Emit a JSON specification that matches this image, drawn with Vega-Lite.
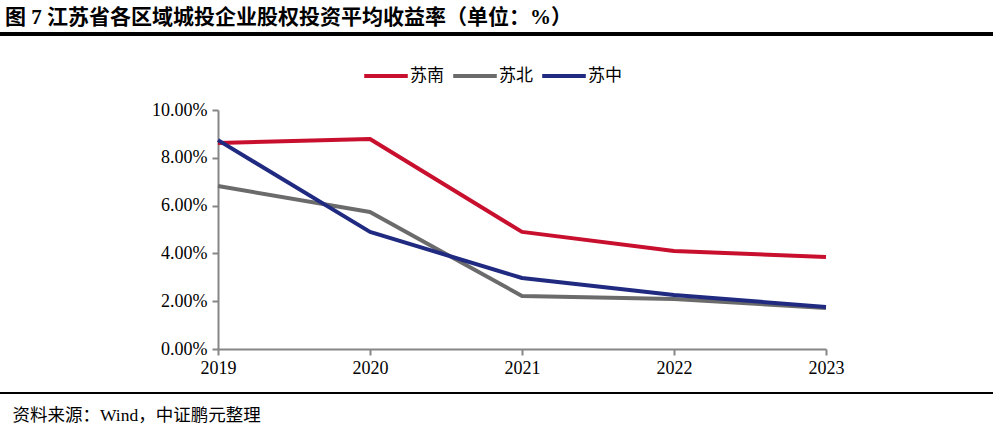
{
  "$schema": "https://vega.github.io/schema/vega-lite/v6.json",
  "width": 608,
  "height": 239,
  "autosize": {"type": "none"},
  "padding": {"left": 218, "top": 110, "right": 167, "bottom": 84},
  "background": "white",
  "config": {
    "view": {"stroke": null},
    "font": "Liberation Serif, Noto Sans CJK SC",
    "axis": {"grid": false, "labelFont": "Liberation Serif, Noto Sans CJK SC", "labelFontSize": 18, "labelColor": "#000000", "domainColor": "#868686", "domainWidth": 2, "tickColor": "#868686", "tickWidth": 2, "tickSize": 6}
  },
  "title": {
    "text": "图 7  江苏省各区域城投企业股权投资平均收益率（单位：%）",
    "anchor": "start",
    "frame": "group",
    "dx": -213,
    "dy": 21,
    "offset": 5,
    "baseline": "bottom",
    "font": "Liberation Serif, Noto Sans CJK SC",
    "fontSize": 21,
    "fontWeight": "bold",
    "color": "#000000"
  },
  "data": {
    "values": [
      {"year": 2019, "region": "苏南", "value": 8.62},
      {"year": 2020, "region": "苏南", "value": 8.79},
      {"year": 2021, "region": "苏南", "value": 4.90},
      {"year": 2022, "region": "苏南", "value": 4.10},
      {"year": 2023, "region": "苏南", "value": 3.85},
      {"year": 2019, "region": "苏北", "value": 6.82},
      {"year": 2020, "region": "苏北", "value": 5.73},
      {"year": 2021, "region": "苏北", "value": 2.22},
      {"year": 2022, "region": "苏北", "value": 2.09},
      {"year": 2023, "region": "苏北", "value": 1.72},
      {"year": 2019, "region": "苏中", "value": 8.74},
      {"year": 2020, "region": "苏中", "value": 4.90},
      {"year": 2021, "region": "苏中", "value": 2.97},
      {"year": 2022, "region": "苏中", "value": 2.26},
      {"year": 2023, "region": "苏中", "value": 1.76}
    ]
  },
  "layer": [
    {
      "mark": {"type": "line", "strokeWidth": 4, "strokeJoin": "round"},
      "encoding": {
        "x": {
          "field": "year", "type": "quantitative",
          "scale": {"domain": [2019, 2023], "nice": false, "zero": false},
          "axis": {
            "values": [2019, 2020, 2021, 2022, 2023], "format": "d", "labelPadding": 4, "labelFlush": false,
            "title": "资料来源：Wind，中证鹏元整理",
            "titleAnchor": "start", "titleX": -206, "titleY": 66, "titleBaseline": "middle", "titleAlign": "left",
            "titleFont": "Liberation Serif, Noto Sans CJK SC", "titleFontSize": 17.5, "titleFontWeight": "normal", "titleColor": "#000000"
          }
        },
        "y": {
          "field": "value", "type": "quantitative",
          "scale": {"domain": [0, 10], "nice": false},
          "axis": {"values": [0, 2, 4, 6, 8, 10], "labelExpr": "format(datum.value, '.2f') + '%'", "title": null, "labelPadding": 5}
        },
        "color": {
          "field": "region", "type": "nominal",
          "scale": {"domain": ["苏南", "苏北", "苏中"], "range": ["#C8102E", "#6B6B6B", "#1F2A80"]},
          "legend": {
            "orient": "none", "legendX": 144, "legendY": -58, "direction": "horizontal", "title": null,
            "symbolType": "stroke", "symbolSize": 1900, "symbolStrokeWidth": 4,
            "labelFont": "Liberation Serif, Noto Sans CJK SC", "labelFontSize": 17, "labelColor": "#000000",
            "labelOffset": 0, "columnPadding": 1
          }
        }
      }
    },
    {
      "mark": {"type": "rule", "color": "#000000", "strokeWidth": 2.5},
      "encoding": {
        "x": {"datum": 2017.566, "type": "quantitative", "scale": {"domain": [2019, 2023], "nice": false, "zero": false}},
        "x2": {"datum": 2024.099},
        "y": {"datum": 13.18, "type": "quantitative", "scale": {"domain": [0, 10], "nice": false}}
      }
    },
    {
      "mark": {"type": "rule", "color": "#000000", "strokeWidth": 2},
      "encoding": {
        "x": {"datum": 2017.566, "type": "quantitative", "scale": {"domain": [2019, 2023], "nice": false, "zero": false}},
        "x2": {"datum": 2024.099},
        "y": {"datum": -1.84, "type": "quantitative", "scale": {"domain": [0, 10], "nice": false}}
      }
    }
  ]
}
